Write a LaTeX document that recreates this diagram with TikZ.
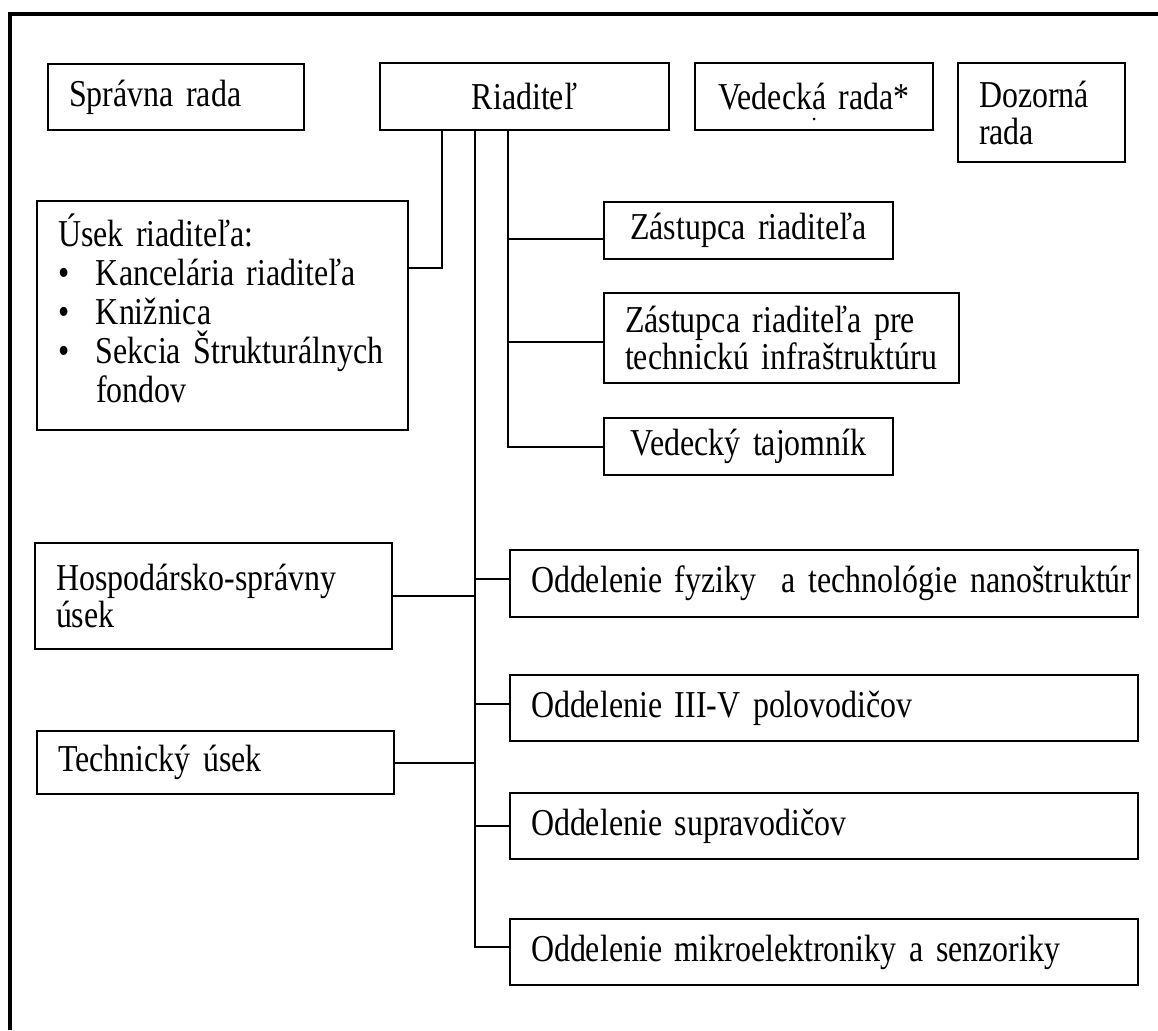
\documentclass[tikz,border=0pt]{standalone}
\usepackage{fontspec}
\setmainfont[FakeStretch=0.84]{Liberation Serif}
\newcommand\boxfont[1]{\fontsize{38}{#1}\selectfont\fontdimen2\font=6.5pt\relax}

\begin{document}
\begin{tikzpicture}[x=1pt,y=-1pt,
box/.style 2 args={draw,line width=2pt,anchor=north west,inner xsep=21pt,inner ysep=0pt,%
text width=#1,minimum height=#2,font=\boxfont{37}},
link/.style={line width=2pt}]
\useasboundingbox (0,0) rectangle (1158,1030);

\draw[line width=4pt] (1158,14)--(10,14)--(10,1030);

\node[box={214pt}{66pt},align=left] (spravna) at (47,63) {Správna rada};
\node[box={247pt}{67pt},align=center] (riaditel) at (379,62) {Riaditeľ};
\node[box={196pt}{67pt},align=center] (vedecka) at (694,62) {Vedecká rada*};
\node[box={125pt}{99pt},align=left] (dozorna) at (957,62) {Dozorná\\rada};

\fill (vedecka.south) ++(0,-12) circle[radius=1.5pt];

\node[box={329pt}{229pt},align=left,font=\boxfont{39}] (usek) at (36,200)
{Úsek riaditeľa:\\
\makebox[38pt][l]{\textbullet}Kancelária riaditeľa\\
\makebox[38pt][l]{\textbullet}Knižnica\\
\makebox[38pt][l]{\textbullet}\mbox{Sekcia Štrukturálnych}\\
\hspace*{38pt}fondov\rule[-14pt]{0pt}{1pt}};

\node[box={247pt}{57pt},align=center] (zast) at (603,201) {Zástupca riaditeľa};
\node[box={313pt}{90pt},align=left] (zastpre) at (603,292)
{\mbox{Zástupca riaditeľa pre}\\\mbox{technickú infraštruktúru}};
\node[box={247pt}{57pt},align=center] (tajomnik) at (603,417) {Vedecký tajomník};

\node[box={315pt}{106pt},align=left] (hosp) at (34,542) {Hospodársko-správny\\úsek};
\node[box={315pt}{63pt},align=left] (tech) at (36,730) {Technický úsek};

\node[box={586pt}{67pt},align=left] (odd1) at (509,549)
{\mbox{Oddelenie fyziky~ a technológie nanoštruktúr}};
\node[box={586pt}{66pt},align=left] (odd2) at (509,674) {Oddelenie III-V polovodičov};
\node[box={586pt}{66pt},align=left] (odd3) at (509,792) {Oddelenie supravodičov};
\node[box={586pt}{66pt},align=left] (odd4) at (509,918)
{Oddelenie mikroelektroniky a senzoriky};

\coordinate (usekjoin) at (442,268);
\coordinate (trunk) at (475,0);
\coordinate (deputy) at (508,0);

\draw[link] (riaditel.south -| usekjoin)--(usekjoin)--(usek.east |- usekjoin);

\draw[link] (riaditel.south -| deputy)--(tajomnik.west -| deputy)--(tajomnik.west);
\draw[link] ([yshift=-8pt]zast.west -| deputy)--([yshift=-8pt]zast.west);
\draw[link] ([yshift=-4pt]zastpre.west -| deputy)--([yshift=-4pt]zastpre.west);

\draw[link] (riaditel.south -| trunk)--([yshift=5pt]odd4.west -| trunk)--([yshift=5pt]odd4.west);
\draw[link] (hosp.east)--(hosp.east -| trunk);
\draw[link] (tech.east)--(tech.east -| trunk);
\draw[link] ([yshift=5pt]odd1.west -| trunk)--([yshift=5pt]odd1.west);
\draw[link] ([yshift=4pt]odd2.west -| trunk)--([yshift=4pt]odd2.west);
\draw[link] (odd3.west -| trunk)--(odd3.west);

\end{tikzpicture}
\end{document}
